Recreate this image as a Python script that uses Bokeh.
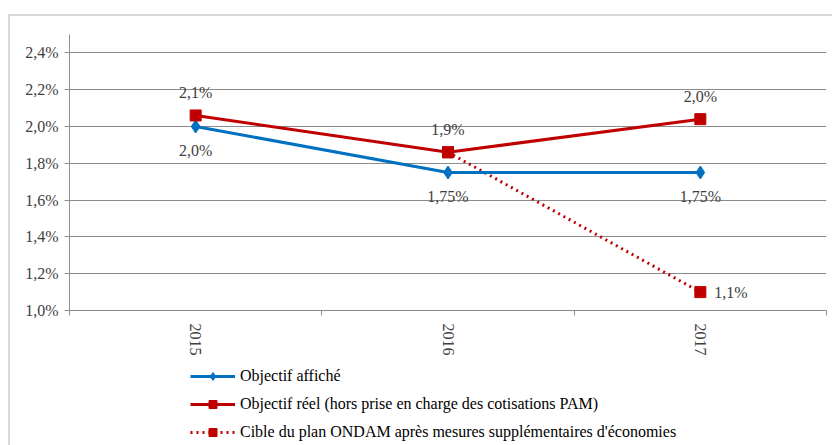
from bokeh.plotting import figure
from bokeh.layouts import column
from bokeh.models import (FixedTicker, CustomJSTickFormatter, Legend, LegendItem,
                          ColumnDataSource, Range1d)
from bokeh.core.properties import value
from bokeh.embed import file_html
from bokeh.resources import INLINE

years = ["2015", "2016", "2017"]
affiche = [2.0, 1.75, 1.75]
reel = [2.06, 1.86, 2.04]
cible_years = ["2016", "2017"]
cible = [1.86, 1.10]

affiche_labels = ["2,0%", "1,75%", "1,75%"]
reel_labels = ["2,1%", "1,9%", "2,0%"]
cible_label = ["", "1,1%"]
y_ticks = [1.0, 1.2, 1.4, 1.6, 1.8, 2.0, 2.2, 2.4]
legend_labels = ["Objectif affiché",
                 "Objectif réel (hors prise en charge des cotisations PAM)",
                 "Cible du plan ONDAM après mesures supplémentaires d'économies"]

BLUE = "#0070C0"
RED = "#C00000"
GRID = "#8c8c8c"
TXT = "#404040"
FONT = "Liberation Serif"
FS = "16px"

pos = {y: i + 0.5 for i, y in enumerate(years)}
xa = [pos[y] for y in years]
xc = [pos[y] for y in cible_years]

p = figure(width=822, height=345, output_backend="svg", toolbar_location=None,
           x_range=Range1d(0, len(years)), y_range=Range1d(1.0, 2.5),
           min_border_left=59, min_border_right=6, min_border_top=18,
           min_border_bottom=51)
p.outline_line_color = None
p.background_fill_color = "white"
p.border_fill_color = "white"

# axes
p.yaxis.ticker = FixedTicker(ticks=y_ticks)
p.yaxis.formatter = CustomJSTickFormatter(code="return tick.toFixed(1).replace('.', ',') + '%';")
p.yaxis.axis_line_color = GRID
p.yaxis.major_tick_line_color = GRID
p.yaxis.major_tick_out = 5
p.yaxis.major_tick_in = 0
p.yaxis.minor_tick_line_color = None
p.yaxis.major_label_text_font = FONT
p.yaxis.major_label_text_font_size = FS
p.yaxis.major_label_text_color = TXT
p.yaxis.major_label_standoff = 6

p.xaxis.ticker = FixedTicker(ticks=xa, minor_ticks=list(range(len(years) + 1)))
p.xaxis.major_label_overrides = {pos[y]: y for y in years}
p.xaxis.major_label_orientation = "vertical"
p.xaxis.major_tick_line_color = None
p.xaxis.minor_tick_line_color = GRID
p.xaxis.minor_tick_out = 5
p.xaxis.minor_tick_in = 0
p.xaxis.axis_line_color = GRID
p.xaxis.major_label_text_font = FONT
p.xaxis.major_label_text_font_size = FS
p.xaxis.major_label_text_color = TXT
p.xaxis.major_label_standoff = 7

p.xgrid.grid_line_color = None
p.ygrid.grid_line_color = GRID
p.ygrid.grid_line_width = 1.2

# series
src_a = ColumnDataSource(dict(x=xa, y=affiche, lab=affiche_labels))
src_r = ColumnDataSource(dict(x=xa, y=reel, lab=reel_labels))
src_c = ColumnDataSource(dict(x=xc, y=cible, lab=cible_label))

p.line("x", "y", source=src_c, color=RED, line_width=3, line_dash="dotted")
p.scatter("x", "y", source=src_c, marker="square", size=11, color=RED)
p.line("x", "y", source=src_a, color=BLUE, line_width=3)
p.scatter("x", "y", source=src_a, marker="diamond", size=13, color=BLUE)
p.line("x", "y", source=src_r, color=RED, line_width=3)
p.scatter("x", "y", source=src_r, marker="square", size=11, color=RED)

p.text("x", "y", text="lab", source=src_a, text_align="center", text_baseline="middle",
       y_offset=24, text_font=value(FONT), text_font_size=FS, text_color=TXT)
p.text("x", "y", text="lab", source=src_r, text_align="center", text_baseline="middle",
       y_offset=-23, text_font=value(FONT), text_font_size=FS, text_color=TXT)
p.text("x", "y", text="lab", source=src_c, text_align="left", text_baseline="middle",
       x_offset=14, text_font=value(FONT), text_font_size=FS, text_color=TXT)

# legend panel: a separate figure whose view range keeps the series out of sight,
# so that only the legend samples are drawn
lg = figure(width=822, height=84, output_backend="svg", toolbar_location=None,
            x_range=Range1d(0, len(years)), y_range=Range1d(10, 11),
            x_axis_type=None, y_axis_type=None, min_border=0)
lg.grid.visible = False
lg.outline_line_color = None
ka = [lg.line("x", "y", source=src_a, color=BLUE, line_width=3),
      lg.scatter("x", "y", source=src_a, marker="diamond", size=9, color=BLUE)]
kr = [lg.line("x", "y", source=src_r, color=RED, line_width=3),
      lg.scatter("x", "y", source=src_r, marker="square", size=10, color=RED)]
kc = [lg.line("x", "y", source=src_c, color=RED, line_width=3, line_dash="dotted"),
      lg.scatter("x", "y", source=src_c, marker="square", size=10, color=RED)]

legend = Legend(items=[
    LegendItem(label=legend_labels[0], renderers=ka, index=0),
    LegendItem(label=legend_labels[1], renderers=kr, index=0),
    LegendItem(label=legend_labels[2], renderers=kc, index=0),
], location=(121, 3), padding=0, spacing=8, label_height=20, glyph_height=20,
    glyph_width=45, label_standoff=5, border_line_color=None, background_fill_alpha=0,
    label_text_font=FONT, label_text_font_size=FS, label_text_color="black",
    margin=0)
lg.add_layout(legend, "center")

layout = column(p, lg, spacing=0, margin=(14, 0, 0, 8),
                styles={"border-top": "2px solid #d9d9d9", "border-left": "2px solid #d9d9d9"})

open("out.html", "w").write(file_html(layout, INLINE))
